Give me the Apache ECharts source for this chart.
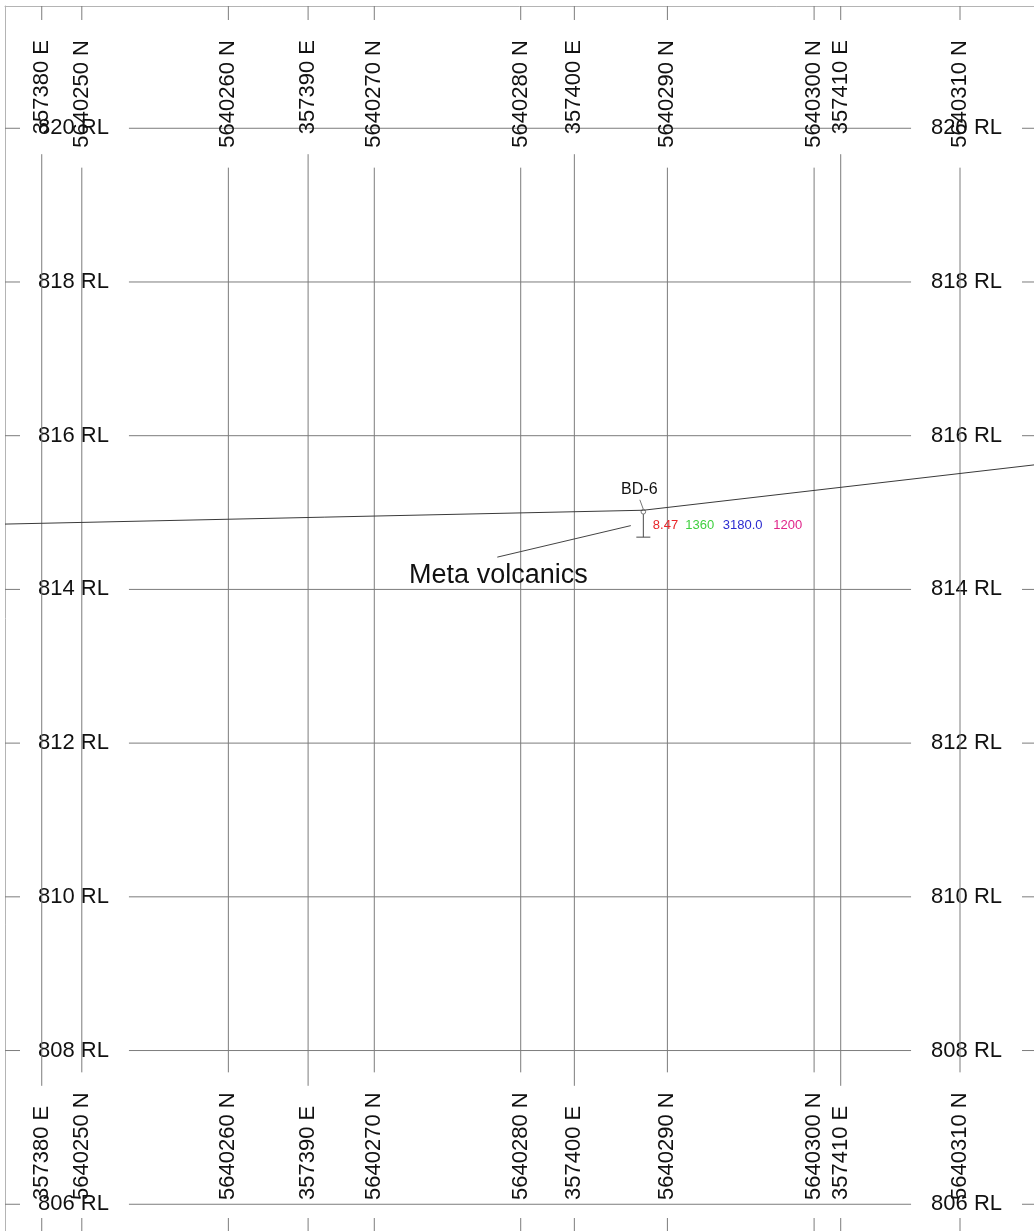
<!DOCTYPE html>
<html>
<head>
<meta charset="utf-8">
<script src="https://cdn.jsdelivr.net/npm/echarts/dist/echarts.min.js"></script>
<style>
html,body{margin:0;padding:0;background:#fff;}
#chart{width:1034px;height:1231px;}
</style>
</head>
<body>
<div id="chart"></div>
<script>
// ---- data (section chainage in metres, elevations in RL metres) ----
const eastingLabels = ['357380 E', '357390 E', '357400 E', '357410 E'];
const eastingChainage = [0, 20.81, 41.61, 62.42];
const northingLabels = ['5640250 N', '5640260 N', '5640270 N', '5640280 N', '5640290 N', '5640300 N', '5640310 N'];
const northingChainage = [3.13, 14.58, 25.98, 37.42, 48.88, 60.34, 71.74];
const rlLevels = [820, 818, 816, 814, 812, 810, 808, 806];
const rlLabels = ['820 RL', '818 RL', '816 RL', '814 RL', '812 RL', '810 RL', '808 RL', '806 RL'];
const xRange = [-2.87, 77.52];
const yRange = [805.652, 821.591];

const topoChainage = [-2.87, 47.0, 77.52];
const topoRL = [814.85, 815.03, 815.62];

const holeName = 'BD-6';
const holeCollar = [47.0, 815.01];
const holeEndRL = 814.68;
const assayValues = ['8.47', '1360', '3180.0', '1200'];

const lithoLabel = 'Meta volcanics';
const lithoText = [28.7, 814.175];
const lithoLeaderFrom = [46.02, 814.83];
const lithoLeaderTo = [35.59, 814.42];

// ---- styles ----
const FONT = '"Liberation Sans", Arial, Helvetica, sans-serif';
const GRID_COLOR = '#7c7c7c';
const TEXT_COLOR = '#111111';
const assayColors = ['#e8262a', '#3fd03f', '#2b2bd0', '#e0258a'];
const assayOffsets = [9.5, 42, 79.5, 130];

const mctx = document.createElement('canvas').getContext('2d');
function textWidth(t, size) { mctx.font = size + 'px ' + FONT; return mctx.measureText(t).width; }
function seg(x1, y1, x2, y2, color, w) {
  return { type: 'line', shape: { x1: x1, y1: y1, x2: x2, y2: y2 }, style: { stroke: color, lineWidth: w || 1 } };
}

function verticalRender(labels) {
  return function (params, api) {
    const label = labels[params.dataIndex];
    const x = api.coord([api.value(0), yRange[1]])[0];
    const cs = params.coordSys;
    const top = cs.y, bottom = cs.y + cs.height;
    const w = textWidth(label, 22);
    return {
      type: 'group',
      children: [
        seg(x, top, x, top + 14, GRID_COLOR),
        seg(x, top + 34 + w + 20, x, bottom - 31 - w - 20, GRID_COLOR),
        seg(x, bottom - 13, x, bottom, GRID_COLOR),
        { type: 'text', x: x, y: top + 34, rotation: Math.PI / 2,
          style: { text: label, x: 0, y: 0, align: 'right', verticalAlign: 'middle', font: '22px ' + FONT, fill: TEXT_COLOR } },
        { type: 'text', x: x, y: bottom - 31, rotation: Math.PI / 2,
          style: { text: label, x: 0, y: 0, align: 'left', verticalAlign: 'middle', font: '22px ' + FONT, fill: TEXT_COLOR } }
      ]
    };
  };
}

function horizontalRender(params, api) {
  const label = rlLabels[params.dataIndex];
  const y = api.coord([xRange[0], api.value(0)])[1];
  const cs = params.coordSys;
  const left = cs.x, right = cs.x + cs.width;
  const w = textWidth(label, 22);
  return {
    type: 'group',
    children: [
      seg(left, y, left + 15, y, GRID_COLOR),
      seg(left + 33 + w + 20, y, right - 32 - w - 20, y, GRID_COLOR),
      seg(right - 12, y, right, y, GRID_COLOR),
      { type: 'text', style: { text: label, x: left + 33, y: y, align: 'left', verticalAlign: 'middle', font: '22px ' + FONT, fill: TEXT_COLOR } },
      { type: 'text', style: { text: label, x: right - 32, y: y, align: 'right', verticalAlign: 'middle', font: '22px ' + FONT, fill: TEXT_COLOR } }
    ]
  };
}

function holeRender(params, api) {
  const p0 = api.coord([api.value(0), api.value(1)]);
  const p1 = api.coord([api.value(0), api.value(2)]);
  const pm = api.coord([api.value(0), (api.value(1) + api.value(2)) / 2]);
  const children = [
    seg(p0[0], p0[1], p1[0], p1[1], '#4a4a4a', 1),
    seg(p1[0] - 7, p1[1], p1[0] + 7, p1[1], '#4a4a4a', 1),
    seg(p0[0] - 3.5, p0[1] - 12, p0[0], p0[1] - 2.5, '#777', 1),
    { type: 'circle', shape: { cx: p0[0], cy: p0[1], r: 2.3 }, style: { fill: '#fff', stroke: '#777', lineWidth: 1 } },
    { type: 'text', style: { text: holeName, x: p0[0] - 4, y: p0[1] - 22, align: 'center', verticalAlign: 'middle', font: '16px ' + FONT, fill: TEXT_COLOR } }
  ];
  assayValues.forEach(function (v, i) {
    children.push({ type: 'text', style: { text: v, x: p0[0] + assayOffsets[i], y: pm[1] + 1, align: 'left', verticalAlign: 'middle', font: '13px ' + FONT, fill: assayColors[i] } });
  });
  return { type: 'group', children: children };
}

function lithoRender(params, api) {
  const t = api.coord([api.value(0), api.value(1)]);
  const a = api.coord([api.value(2), api.value(3)]);
  const b = api.coord([api.value(4), api.value(5)]);
  return {
    type: 'group',
    children: [
      seg(a[0], a[1], b[0], b[1], '#444', 1),
      { type: 'text', style: { text: lithoLabel, x: t[0], y: t[1], align: 'left', verticalAlign: 'middle', font: '27px ' + FONT, fill: TEXT_COLOR } }
    ]
  };
}

const chart = echarts.init(document.getElementById('chart'), null, { renderer: 'canvas' });
chart.setOption({
  animation: false,
  backgroundColor: '#ffffff',
  grid: { left: 5, top: 6, right: 0, bottom: 0, containLabel: false },
  xAxis: {
    type: 'value', position: 'top', min: xRange[0], max: xRange[1],
    axisLine: { show: true, onZero: false, lineStyle: { color: '#b4b4b4', width: 1 } },
    axisTick: { show: false }, axisLabel: { show: false }, splitLine: { show: false }
  },
  yAxis: {
    type: 'value', position: 'left', min: yRange[0], max: yRange[1],
    axisLine: { show: true, onZero: false, lineStyle: { color: '#b4b4b4', width: 1 } },
    axisTick: { show: false }, axisLabel: { show: false }, splitLine: { show: false }
  },
  series: [
    { type: 'custom', name: 'RL', renderItem: horizontalRender, data: rlLevels.map(function (v) { return [v]; }), encode: { y: 0 }, silent: true },
    { type: 'custom', name: 'Eastings', renderItem: verticalRender(eastingLabels), data: eastingChainage.map(function (v) { return [v]; }), encode: { x: 0 }, silent: true },
    { type: 'custom', name: 'Northings', renderItem: verticalRender(northingLabels), data: northingChainage.map(function (v) { return [v]; }), encode: { x: 0 }, silent: true },
    { type: 'line', name: 'Topography', data: topoChainage.map(function (c, i) { return [c, topoRL[i]]; }),
      symbol: 'none', lineStyle: { color: '#3a3a3a', width: 1 }, silent: true },
    { type: 'custom', name: 'Litho', renderItem: lithoRender,
      data: [[lithoText[0], lithoText[1], lithoLeaderFrom[0], lithoLeaderFrom[1], lithoLeaderTo[0], lithoLeaderTo[1]]],
      encode: { x: 0, y: 1 }, silent: true },
    { type: 'custom', name: holeName, renderItem: holeRender, data: [[holeCollar[0], holeCollar[1], holeEndRL]], encode: { x: 0, y: 1 }, silent: true }
  ]
});
</script>
</body>
</html>
